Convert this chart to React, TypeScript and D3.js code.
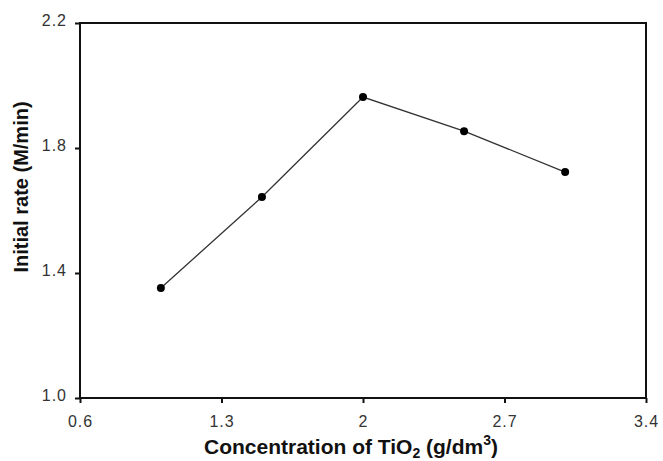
import React, { useEffect, useRef } from 'react';
import * as d3 from 'd3';

const concentrations = [1.0, 1.5, 2.0, 2.5, 3.0];
const initialRates = [1.352, 1.643, 1.963, 1.854, 1.723];
const xTicks = [0.6, 1.3, 2, 2.7, 3.4];
const yTicks = [1.0, 1.4, 1.8, 2.2];

const W = 663;
const H = 461;
const margin = { top: 23, right: 17, bottom: 63, left: 80 };

function Chart() {
	const ref = useRef<SVGSVGElement>(null);

	useEffect(() => {
		document.body.style.margin = '0';
		document.body.style.overflow = 'hidden';

		const svg = d3.select(ref.current);
		svg.selectAll('*').remove();

		const x = d3.scaleLinear().domain([0.6, 3.4]).range([margin.left, W - margin.right]);
		const y = d3.scaleLinear().domain([1.0, 2.2]).range([H - margin.bottom, margin.top]);

		const font = 'Liberation Sans, Arial, sans-serif';

		// frame
		svg.append('rect')
			.attr('x', x(0.6))
			.attr('y', y(2.2))
			.attr('width', x(3.4) - x(0.6))
			.attr('height', y(1.0) - y(2.2))
			.attr('fill', 'none')
			.attr('stroke', '#111')
			.attr('stroke-width', 2);

		const xAxis = svg.append('g')
			.attr('transform', `translate(0,${y(1.0)})`)
			.call(d3.axisBottom(x).tickValues(xTicks).tickSize(5).tickPadding(13)
				.tickFormat(d => String(d)));
		xAxis.select('.domain').remove();

		const yAxis = svg.append('g')
			.attr('transform', `translate(${x(0.6)},0)`)
			.call(d3.axisLeft(y).tickValues(yTicks).tickSize(5).tickPadding(8)
				.tickFormat(d3.format('.1f')));
		yAxis.select('.domain').remove();
		yAxis.selectAll('.tick text').attr('dy', '0.18em');

		svg.selectAll('.tick line').attr('stroke', '#111').attr('stroke-width', 2);
		svg.selectAll('.tick text')
			.attr('font-family', font)
			.attr('font-size', 16)
			.attr('letter-spacing', 1)
			.attr('fill', '#333');

		// line and markers
		const pts = concentrations.map((c, i) => [c, initialRates[i]] as [number, number]);
		const line = d3.line<[number, number]>().x(d => x(d[0])).y(d => y(d[1]));
		svg.append('path')
			.datum(pts)
			.attr('d', line)
			.attr('fill', 'none')
			.attr('stroke', '#333')
			.attr('stroke-width', 1.3);

		svg.selectAll('circle')
			.data(pts)
			.enter()
			.append('circle')
			.attr('cx', d => x(d[0]))
			.attr('cy', d => y(d[1]))
			.attr('r', 4)
			.attr('fill', '#000');

		// axis titles
		const xt = svg.append('text')
			.attr('x', 351)
			.attr('y', 454)
			.attr('text-anchor', 'middle')
			.attr('font-family', font)
			.attr('font-size', 21)
			.attr('font-weight', 'bold')
			.attr('fill', '#111');
		xt.append('tspan').text('Concentration of TiO');
		xt.append('tspan').attr('font-size', 14).attr('dy', 4).text('2');
		xt.append('tspan').attr('dy', -4).text(' (g/dm');
		xt.append('tspan').attr('font-size', 14).attr('dy', -9).text('3');
		xt.append('tspan').attr('dy', 9).text(')');

		svg.append('text')
			.attr('transform', `translate(28,187) rotate(-90)`)
			.attr('text-anchor', 'middle')
			.attr('font-family', font)
			.attr('font-size', 20)
			.attr('font-weight', 'bold')
			.attr('fill', '#111')
			.text('Initial rate (M/min)');
	}, []);

	return <svg ref={ref} width={W} height={H} style={{ display: 'block', background: '#fff' }} />;
}

export default function App() {
	return (
		<div>
			<Chart />
		</div>
	);
}
